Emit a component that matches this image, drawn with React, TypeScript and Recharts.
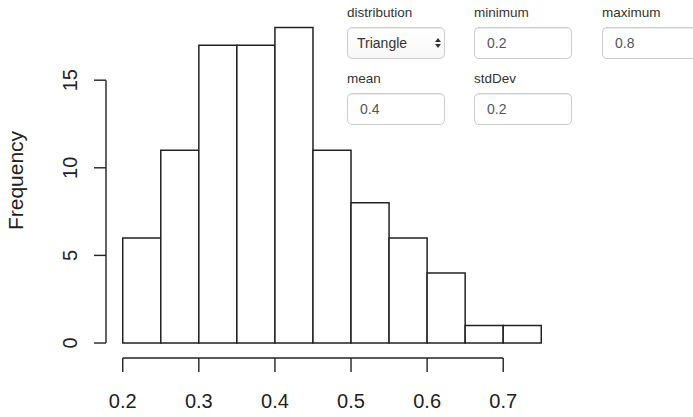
import {
  ComposedChart,
  ReferenceArea,
  ReferenceLine,
  Scatter,
  XAxis,
  YAxis,
} from "recharts";

// histogram bins (left edge, right edge) and counts
const binLow = [0.2, 0.25, 0.3, 0.35, 0.4, 0.45, 0.5, 0.55, 0.6, 0.65, 0.7];
const binHigh = [0.25, 0.3, 0.35, 0.4, 0.45, 0.5, 0.55, 0.6, 0.65, 0.7, 0.75];
const counts = [6, 11, 17, 17, 18, 11, 8, 6, 4, 1, 1];

const xTicks = [0.2, 0.3, 0.4, 0.5, 0.6, 0.7];
const yTicks = [0, 5, 10, 15];

// R-style extended plot range (4% padding around the data)
const xDomain = [0.178, 0.772];
const yDomain = [-0.855, 18.72];

const FONT = "'Liberation Sans', Arial, Helvetica, sans-serif";
const INK = "#222";

const bins = binLow.map((lo, i) => ({ lo, hi: binHigh[i], count: counts[i] }));

function YTick({ x, y, payload }: any) {
  return (
    <text
      transform={`translate(${x - 15},${y}) rotate(-90)`}
      textAnchor="middle"
      fontSize={20}
      fontFamily={FONT}
      fill={INK}
    >
      {payload.value}
    </text>
  );
}

function XTick({ x, y, payload }: any) {
  return (
    <text x={x} y={y + 34} textAnchor="middle" fontSize={20} fontFamily={FONT} fill={INK}>
      {payload.value}
    </text>
  );
}

function FreqLabel({ viewBox }: any) {
  const cx = viewBox.x - 23;
  const cy = viewBox.y + viewBox.height / 2 - 6;
  return (
    <text
      transform={`translate(${cx},${cy}) rotate(-90)`}
      textAnchor="middle"
      fontSize={21}
      fontFamily={FONT}
      fill={INK}
    >
      Frequency
    </text>
  );
}

const labelStyle: React.CSSProperties = {
  position: "absolute",
  fontSize: 13.5,
  lineHeight: "16px",
  color: "#333",
  fontFamily: FONT,
};

const boxStyle: React.CSSProperties = {
  position: "absolute",
  width: 98,
  height: 32,
  boxSizing: "border-box",
  border: "1px solid #ccc",
  borderRadius: 5,
  background: "#fff",
  boxShadow: "inset 0 1px 1px rgba(0,0,0,0.075)",
  fontSize: 14,
  lineHeight: "30px",
  paddingLeft: 12,
  color: "#555",
  fontFamily: FONT,
};

function Field({ label, value, left, top }: { label: string; value: string; left: number; top: number }) {
  return (
    <>
      <div style={{ ...labelStyle, left, top: top - 22 }}>{label}</div>
      <div style={{ ...boxStyle, left, top }}>{value}</div>
    </>
  );
}

export default function App() {
  return (
    <div style={{ position: "absolute", left: 0, top: 0, width: 693, height: 417, overflow: "hidden", background: "#fff" }}>
      <ComposedChart
        width={693}
        height={417}
        data={bins}
        margin={{ top: 15, right: 135, left: 46, bottom: 9 }}
      >
        <XAxis
          type="number"
          dataKey="lo"
          domain={xDomain}
          allowDataOverflow
          ticks={xTicks}
          axisLine={false}
          tickSize={14}
          tickLine={{ stroke: INK, strokeWidth: 1.4 }}
          tick={<XTick />}
          height={50}
        />
        <YAxis
          type="number"
          dataKey="count"
          domain={yDomain}
          allowDataOverflow
          ticks={yTicks}
          axisLine={false}
          tickSize={12}
          tickLine={{ stroke: INK, strokeWidth: 1.4 }}
          tick={<YTick />}
          width={60}
          label={<FreqLabel />}
        />
        {bins.map((b) => (
          <ReferenceArea
            key={b.lo}
            x1={b.lo}
            x2={b.hi}
            y1={0}
            y2={b.count}
            fill="#fff"
            fillOpacity={1}
            stroke={INK}
            strokeWidth={1.5}
            ifOverflow="visible"
          />
        ))}
        <ReferenceLine
          segment={[
            { x: xTicks[0], y: yDomain[0] },
            { x: xTicks[xTicks.length - 1], y: yDomain[0] },
          ]}
          stroke={INK}
          strokeWidth={1.4}
          ifOverflow="visible"
        />
        <ReferenceLine
          segment={[
            { x: xDomain[0], y: yTicks[0] },
            { x: xDomain[0], y: yTicks[yTicks.length - 1] },
          ]}
          stroke={INK}
          strokeWidth={1.4}
          ifOverflow="visible"
        />
        <Scatter dataKey="count" shape={() => <g />} isAnimationActive={false} />
      </ComposedChart>

      <div style={{ ...labelStyle, left: 347, top: 5 }}>distribution</div>
      <div style={{ ...boxStyle, left: 347, top: 27, paddingLeft: 9, color: "#333", background: "linear-gradient(#fff, #f7f7f7)" }}>
        Triangle
        <svg width={8} height={12} style={{ position: "absolute", left: 86, top: 9 }}>
          <path d="M1 5 L4 1 L7 5 Z" fill="#333" />
          <path d="M1 7 L4 11 L7 7 Z" fill="#333" />
        </svg>
      </div>
      <Field label="minimum" value="0.2" left={474} top={27} />
      <Field label="maximum" value="0.8" left={602} top={27} />
      <Field label="mean" value="0.4" left={347} top={93} />
      <Field label="stdDev" value="0.2" left={474} top={93} />
    </div>
  );
}
